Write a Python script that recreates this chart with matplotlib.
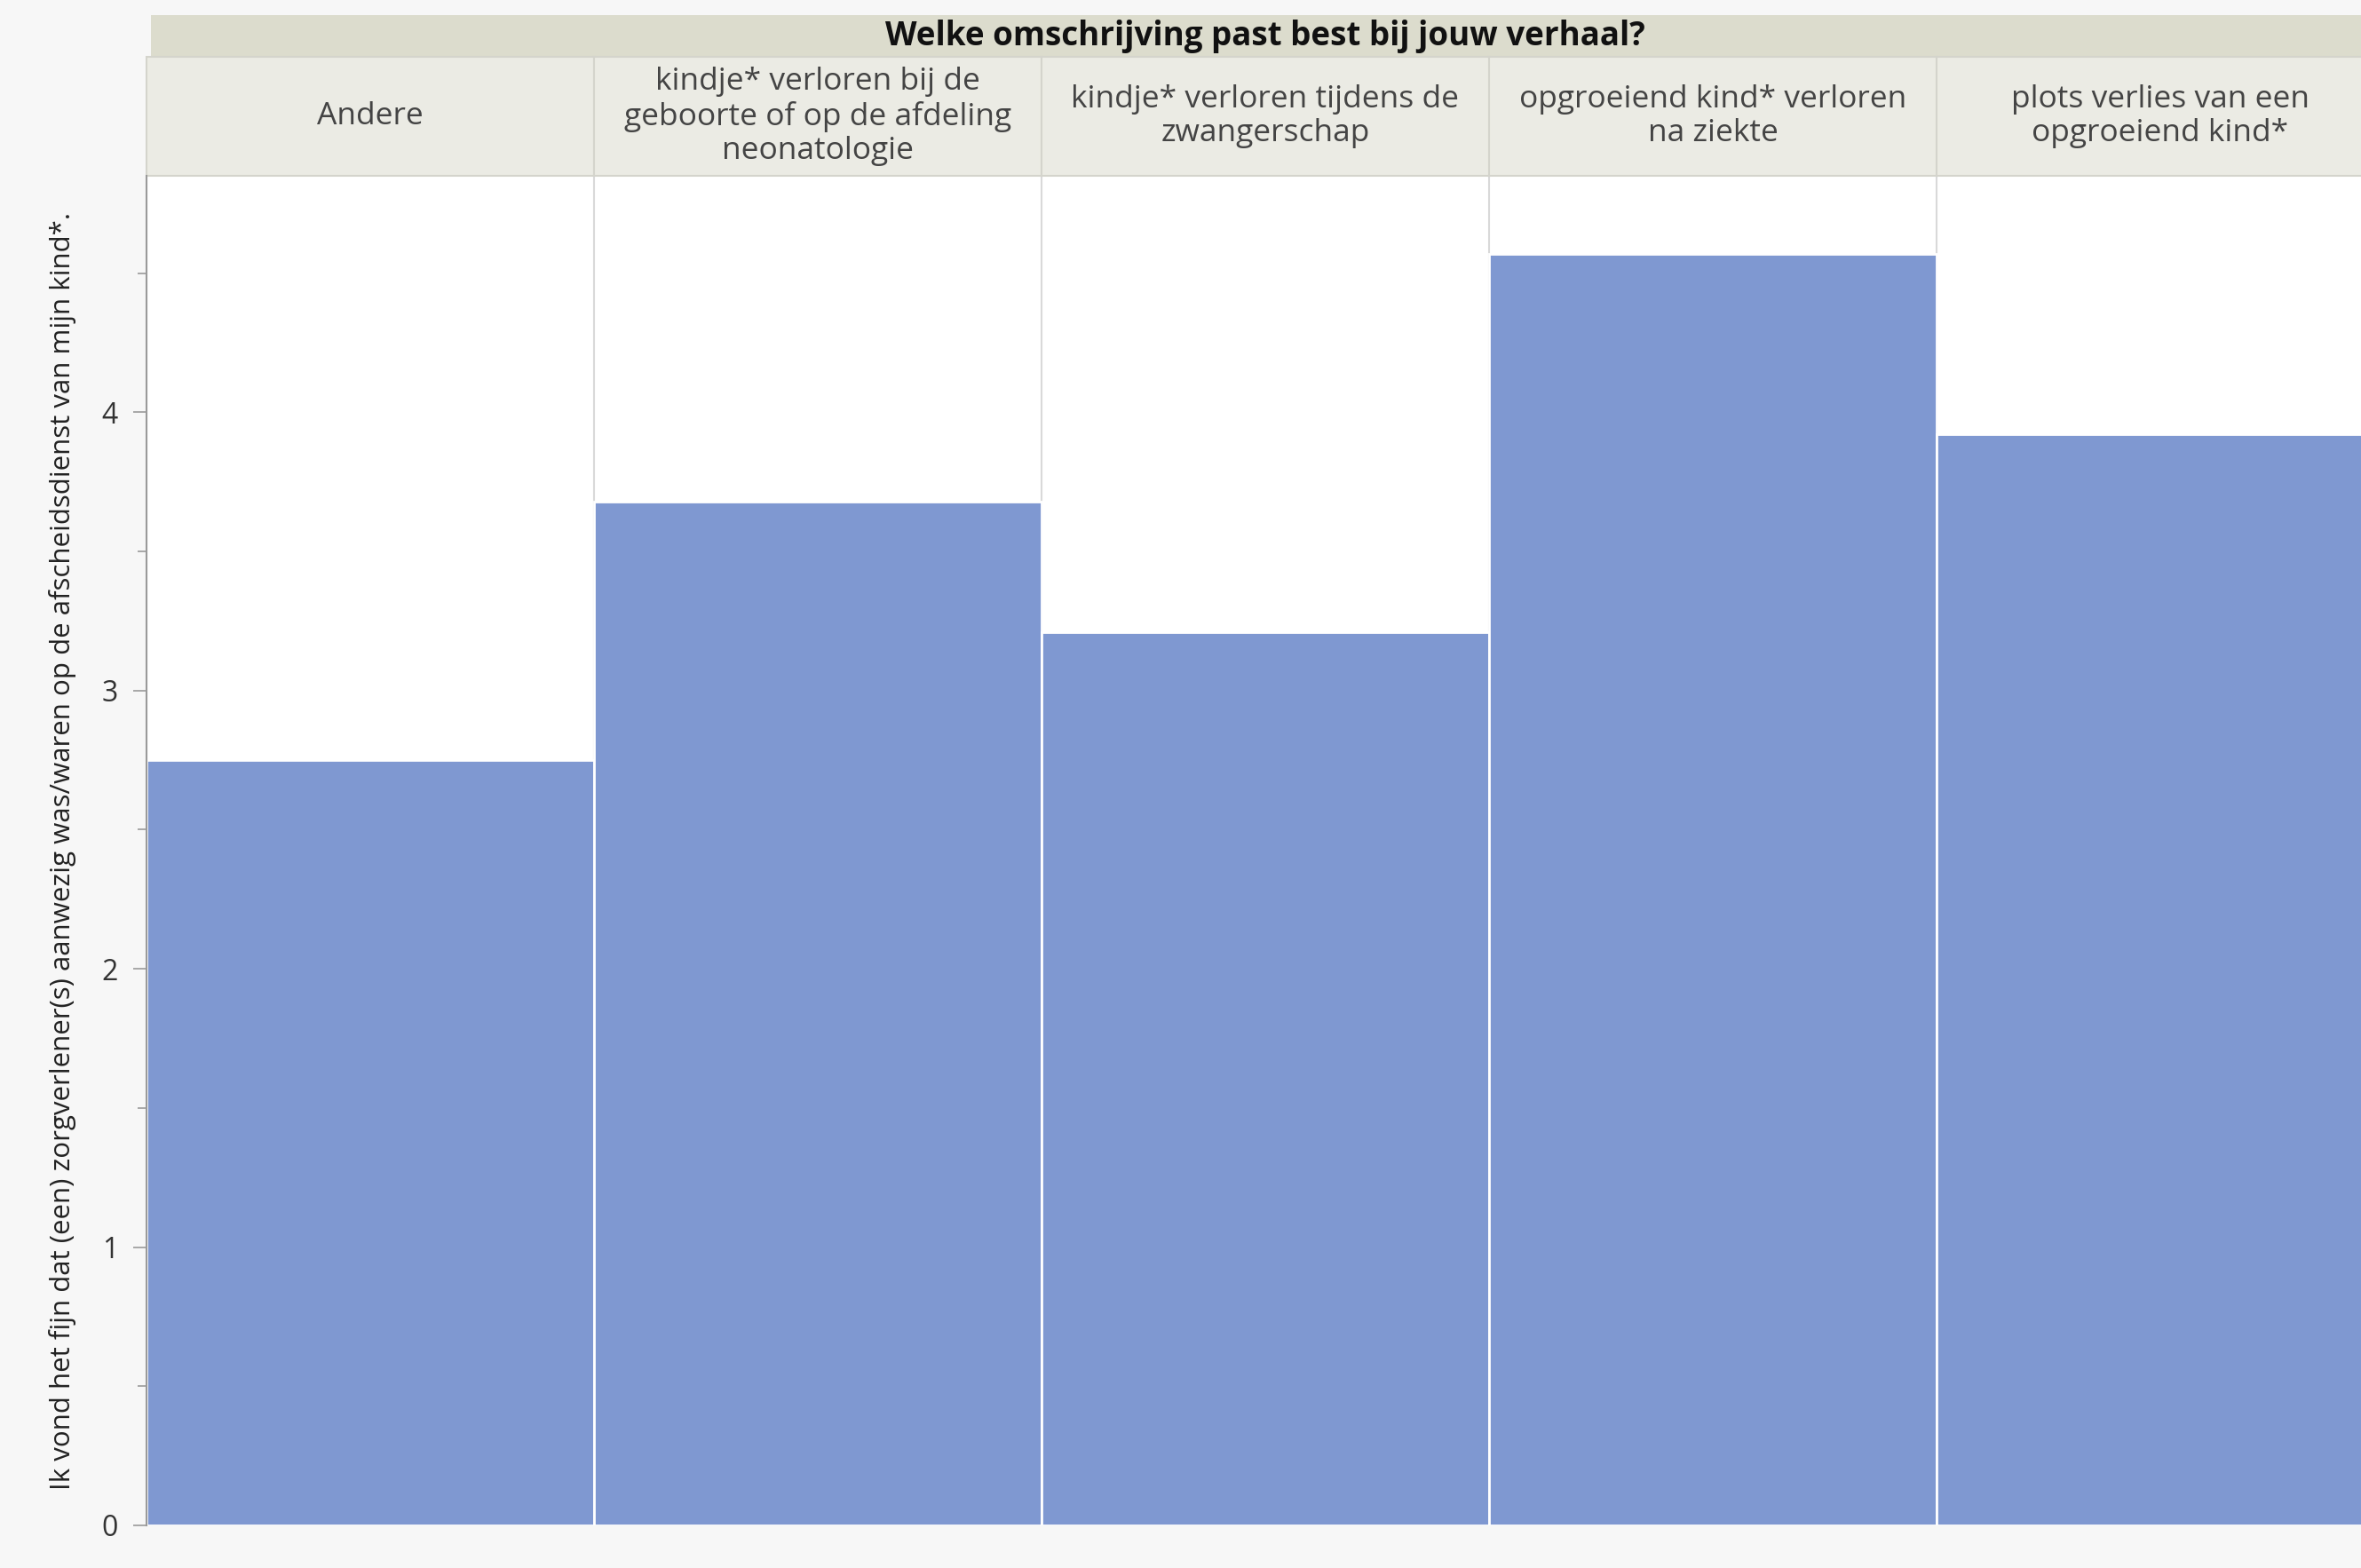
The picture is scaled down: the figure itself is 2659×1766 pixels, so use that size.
import matplotlib
matplotlib.use('Agg')
import matplotlib.pyplot as plt
import matplotlib.ticker as mticker
from matplotlib.patches import Rectangle

# Data.
categories = [
    "Andere",
    "kindje* verloren bij de\ngeboorte of op de afdeling\nneonatologie",
    "kindje* verloren tijdens de\nzwangerschap",
    "opgroeiend kind* verloren\nna ziekte",
    "plots verlies van een\nopgroeiend kind*",
]
values = [2.75, 3.68, 3.21, 4.57, 3.92]
y_ticks = [0, 1, 2, 3, 4]
title = "Welke omschrijving past best bij jouw verhaal?"
y_label = ("Ik vond het fijn dat (een) zorgverlener(s) aanwezig was/waren "
           "op de afscheidsdienst van mijn kind*.")

BAR_COLOR = '#7f98d1'
BG_COLOR = '#f7f7f7'
TITLE_BAND = '#dcdccd'
CAT_BAND = '#ebebe4'

plt.rcParams['font.family'] = ['Open Sans', 'DejaVu Sans']

W, H = 2659, 1766
fig = plt.figure(figsize=(W / 100, H / 100), dpi=100)
fig.patch.set_facecolor(BG_COLOR)

# Axes placement in pixels of the reference.
left_px, right_px = 165, 165 + 5 * 504
top_px, bottom_px = 198, 1718
ax = fig.add_axes([left_px / W, 1 - bottom_px / H,
                   (right_px - left_px) / W, (bottom_px - top_px) / H])
ax.set_facecolor('white')

x = list(range(len(categories)))
ax.bar(x, values, width=1.0, color=BAR_COLOR, edgecolor='white',
       linewidth=2, zorder=2)

# Light separators between the panels.
for i in range(len(categories) + 1):
    ax.axvline(i - 0.5, color='#d9d9d9', linewidth=1.5, zorder=1)

ax.set_xlim(-0.5, len(categories) - 0.5)
ax.set_ylim(0, 4.85)
ax.set_yticks(y_ticks)
ax.yaxis.set_minor_locator(mticker.MultipleLocator(0.5))
ax.set_xticks([])
ax.tick_params(axis='y', which='major', length=11, width=1.2, color='#9a9a9a',
               labelsize=23, labelcolor='#333333', pad=12)
ax.tick_params(axis='y', which='minor', length=7, width=1.2, color='#9a9a9a')

for side in ['top', 'right', 'bottom']:
    ax.spines[side].set_visible(False)
ax.spines['left'].set_color('#9a9a9a')
ax.spines['left'].set_linewidth(1.5)

# Header bands above the plot (axes coordinates).
axh = bottom_px - top_px
cat_top = 1 + (top_px - 64) / axh
title_top = 1 + (top_px - 17) / axh
x0 = ax.transAxes.inverted().transform(fig.transFigure.transform((170 / W, 0)))[0]
ax.add_patch(Rectangle((x0, cat_top), 1.2 - x0, title_top - cat_top,
                       transform=ax.transAxes, facecolor=TITLE_BAND,
                       edgecolor='none', clip_on=False))
ax.text(0.5, (cat_top + title_top) / 2, title, transform=ax.transAxes,
        ha='center', va='center', fontsize=26.5, fontweight='bold',
        color='#111111')

n = len(categories)
for i, cat in enumerate(categories):
    ax.add_patch(Rectangle((i / n, 1), 1 / n, cat_top - 1,
                           transform=ax.transAxes, facecolor=CAT_BAND,
                           edgecolor='#d4d4cc', linewidth=1.5, clip_on=False))
    ax.text((i + 0.5) / n, (1 + cat_top) / 2, cat, transform=ax.transAxes,
            ha='center', va='center', fontsize=25.5, color='#444444',
            linespacing=1.18)

fig.text(71 / W, 1 - 958 / H, y_label, rotation=90, ha='center',
         va='center', fontsize=22.5, color='#222222')

plt.savefig('out.png', dpi=100, facecolor=BG_COLOR)
